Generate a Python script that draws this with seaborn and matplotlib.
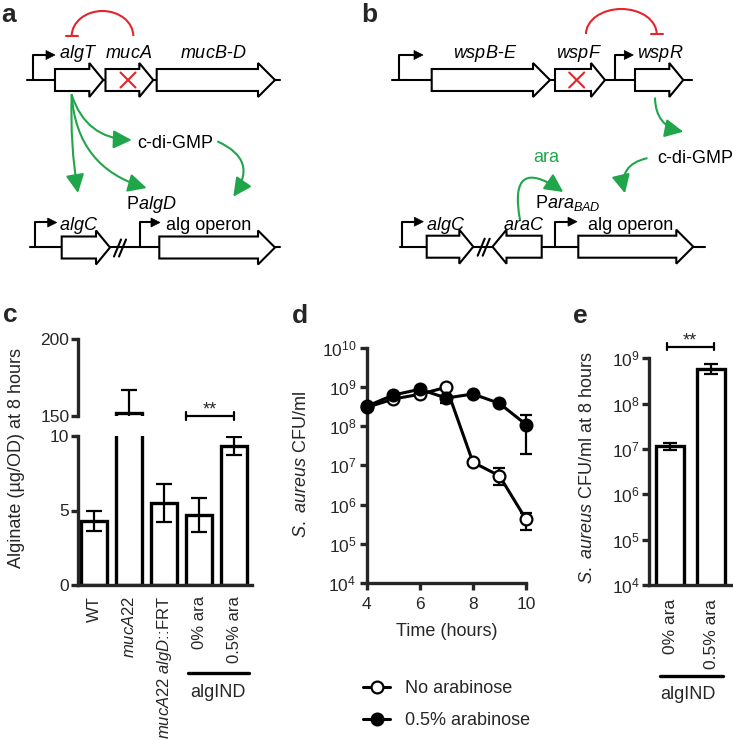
import matplotlib
matplotlib.use('Agg')
import numpy as np
import pandas as pd
import matplotlib.pyplot as plt
import seaborn as sns
from matplotlib.patches import Polygon, Arc, FancyArrowPatch
from matplotlib.lines import Line2D

# panel c: alginate at 8 hours
strains = ['WT', 'mucA22', 'mucA22 algD::FRT', '0% ara', '0.5% ara']
strain_labels = ['WT', r'$\it{mucA22}$', r'$\it{mucA22\ algD}$::FRT', '0% ara', '0.5% ara']
alginate = [4.3, 152, 5.5, 4.7, 9.35]
alginate_err = [0.65, 15, 1.3, 1.15, 0.6]

# panel d: S. aureus over time
hours = [4, 5, 6, 7, 8, 9, 10]
no_ara = [3.0e8, 4.9e8, 6.5e8, 9.8e8, 1.2e7, 5.4e6, 4.2e5]
no_ara_lo = [2.7e8, 4.5e8, 6.0e8, 9.0e8, 1.1e7, 3.2e6, 2.3e5]
no_ara_hi = [3.3e8, 5.3e8, 7.0e8, 1.05e9, 1.3e7, 8.7e6, 6.2e5]
ara = [3.2e8, 6.2e8, 8.7e8, 5.2e8, 6.6e8, 3.8e8, 1.1e8]
ara_lo = [2.9e8, 5.8e8, 8.0e8, 4.0e8, 6.2e8, 3.5e8, 2.0e7]
ara_hi = [3.5e8, 6.6e8, 9.4e8, 6.0e8, 7.0e8, 4.1e8, 1.9e8]
legend_labels = ['No arabinose', '0.5% arabinose']

# panel e: S. aureus at 8 hours
conditions = ['0% ara', '0.5% ara']
cfu_8h = [1.17e7, 5.8e8]
cfu_lo = [9.5e6, 4.5e8]
cfu_hi = [1.38e7, 7.4e8]

sns.set_style('ticks')
plt.rcParams['font.family'] = ['Liberation Sans', 'DejaVu Sans']
plt.rcParams['mathtext.fontset'] = 'custom'
plt.rcParams['mathtext.rm'] = 'Liberation Sans'
plt.rcParams['mathtext.it'] = 'Liberation Sans:italic'
plt.rcParams['mathtext.bf'] = 'Liberation Sans:bold'

W, H = 733, 741
fig = plt.figure(figsize=(W / 100, H / 100), dpi=100)


def fx(px):
    return px / W


def fy(py):
    return 1 - py / H


RED = '#e4252b'
GREEN = '#1fa64a'
LW = 1.5
FS = 13

# ---------- diagrams a and b ----------
ax = fig.add_axes([0, fy(290), 1, 290 / H])
ax.set_xlim(0, W)
ax.set_ylim(290, 0)
ax.axis('off')


def gene(x0, x1, yc, reverse=False, body=22, head=34, hl=14):
    b, h = body / 2, head / 2
    if not reverse:
        pts = [(x0, yc - b), (x1 - hl, yc - b), (x1 - hl, yc - h), (x1, yc),
               (x1 - hl, yc + h), (x1 - hl, yc + b), (x0, yc + b)]
    else:
        pts = [(x1, yc - b), (x0 + hl, yc - b), (x0 + hl, yc - h), (x0, yc),
               (x0 + hl, yc + h), (x0 + hl, yc + b), (x1, yc + b)]
    ax.add_patch(Polygon(pts, closed=True, fc='white', ec='black', lw=LW,
                         joinstyle='miter', zorder=3))


def promoter(x, yline, xtip, rise=25):
    ytop = yline - rise
    ax.plot([x, x, xtip - 7], [yline, ytop, ytop], color='black', lw=LW, zorder=2)
    ax.add_patch(Polygon([(xtip - 9, ytop - 4.5), (xtip, ytop), (xtip - 9, ytop + 4.5)],
                         closed=True, fc='black', ec='black', lw=0.5, zorder=4))


def cross(x, y, s=7.5):
    ax.plot([x - s, x + s], [y - s, y + s], color=RED, lw=LW, zorder=5)
    ax.plot([x - s, x + s], [y + s, y - s], color=RED, lw=LW, zorder=5)


def brk(x, y):
    for dx in (0, 5):
        ax.plot([x - 4 + dx, x + 3 + dx], [y + 9, y - 8], color='black', lw=LW, zorder=4)


def inhibit(xa, xb, y, height, bar_at):
    ax.add_patch(Arc(((xa + xb) / 2, y), xb - xa, height, theta1=180, theta2=360,
                     color=RED, lw=LW))
    ax.plot([bar_at - 6, bar_at + 6], [y, y], color=RED, lw=LW)


def green(p0, p1, rad):
    ax.add_patch(FancyArrowPatch(p0, p1, connectionstyle=f'arc3,rad={rad}',
                                 arrowstyle='-|>,head_length=0.7,head_width=0.35',
                                 mutation_scale=16, color=GREEN, lw=LW,
                                 shrinkA=0, shrinkB=0, zorder=2))


def label(x, y, s, color='black'):
    ax.text(x, y, s, ha='center', va='baseline', fontsize=FS, color=color)


# a - top row
ax.plot([27, 280], [80, 80], color='black', lw=LW, zorder=1)
promoter(33.3, 80, 55)
gene(55, 103.3, 80)
gene(105.5, 153.3, 80)
gene(156.7, 275, 80, hl=17)
cross(128, 80)
label(78, 57.5, r'$\it{algT}$')
label(128.3, 57.5, r'$\it{mucA}$')
label(213.3, 57.5, r'$\it{mucB}$-$\it{D}$')
inhibit(71.7, 133.3, 36, 50, 71.7)
green((71.7, 95), (78, 193), 0.05)
green((71.7, 95), (146.7, 188), 0.35)
green((71.7, 95), (131.7, 140), 0.35)
green((218, 141.7), (233.3, 196.7), -0.6)
label(175, 148, 'c-di-GMP')
label(151.7, 209, r'P$\it{algD}$')

# a - bottom row
ax.plot([30, 280], [247.5, 247.5], color='black', lw=LW, zorder=1)
promoter(35, 247.5, 56.7)
gene(61.7, 110, 247.5)
brk(118, 247.5)
promoter(140, 247.5, 160)
gene(159.3, 275, 247.5, hl=17)
label(78.7, 230, r'$\it{algC}$')
label(209, 230, 'alg operon')

# b - top row
ax.plot([391.7, 691.7], [80, 80], color='black', lw=LW, zorder=1)
promoter(399.3, 80, 423)
gene(431.7, 550, 80, hl=17)
gene(555, 605, 80)
cross(576.7, 80)
promoter(615, 80, 633.3)
gene(635, 683.3, 80)
label(485, 57.5, r'$\it{wspB}$-$\it{E}$')
label(579, 57.5, r'$\it{wspF}$')
label(660, 57.5, r'$\it{wspR}$')
inhibit(586, 656.7, 34, 50, 656.7)
green((655, 98.3), (683.3, 131.7), 0.4)
label(695, 163, 'c-di-GMP')
green((646.7, 158.3), (625, 193.3), 0.5)
label(546.7, 161.7, 'ara', color=GREEN)
green((520, 220), (563.3, 192), -1.2)
label(568, 208.3, r'P$\it{ara}_{\it{BAD}}$')

# b - bottom row
ax.plot([400, 705], [246.7, 246.7], color='black', lw=LW, zorder=1)
promoter(401.7, 246.7, 423.3)
gene(426.7, 473.3, 246.7)
brk(481.7, 246.7)
gene(492.5, 541.7, 246.7, reverse=True)
promoter(555, 246.7, 577)
gene(578.3, 693.3, 246.7, hl=17)
label(446, 230, r'$\it{algC}$')
label(524, 230, r'$\it{araC}$')
label(631, 230, 'alg operon')

# ---------- panel c ----------
SP = 2.4
ax_c = fig.add_axes([fx(78.3), fy(585), (251.7 - 78.3) / W, (585 - 436) / H])
ax_c2 = fig.add_axes([fx(78.3), fy(416), (251.7 - 78.3) / W, (416 - 339.3) / H])
for a in (ax_c, ax_c2):
    sns.barplot(x=strains, y=alginate, ax=a, color='white', edgecolor='black',
                linewidth=SP, width=0.74, errorbar=None, saturation=1)
    a.errorbar(range(len(strains)), alginate, yerr=alginate_err, fmt='none',
               ecolor='black', elinewidth=1.6, capsize=6, capthick=1.6, zorder=5)
    a.set_xlim(-0.46, 4.5)
    a.set_ylabel('')
    a.set_xlabel('')
    for s in ('top', 'right'):
        a.spines[s].set_visible(False)
    a.spines['left'].set_linewidth(SP)
    a.spines['bottom'].set_linewidth(SP)
    a.tick_params(axis='y', width=SP, length=5, pad=1.5, labelsize=12.5)
ax_c.set_ylim(0, 10)
ax_c.set_yticks([0, 5, 10])
ax_c.set_xticks(range(len(strains)))
ax_c.set_xticklabels(strain_labels, rotation=90)
ax_c.tick_params(axis='x', length=0, pad=8, labelsize=12)
ax_c2.set_ylim(150, 200)
ax_c2.set_yticks([150, 200])
ax_c2.spines['bottom'].set_visible(False)
ax_c2.tick_params(axis='x', bottom=False, labelbottom=False)
ax_c2.plot([2.62, 4.0], [150, 150], color='black', lw=1.6, clip_on=False)
for xb in (2.62, 4.0):
    ax_c2.plot([xb, xb], [147.6, 152.4], color='black', lw=1.6, clip_on=False)
fig.text(fx(210), fy(414), '**', ha='center', va='baseline', fontsize=FS)
fig.lines.append(Line2D([fx(188.3), fx(249.3)], [fy(673.3), fy(673.3)],
                        color='black', lw=2.4, transform=fig.transFigure))
fig.text(fx(218), fy(697.3), 'algIND', ha='center', va='baseline', fontsize=FS)
fig.text(fx(16.7), fy(458), 'Alginate (µg/OD) at 8 hours', rotation=90,
         ha='center', va='center', fontsize=FS)

# ---------- panel d ----------
ax_d = fig.add_axes([fx(366.7), fy(583), (526 - 366.7) / W, (583 - 347.7) / H])
ax_d.errorbar(hours, no_ara,
              yerr=[np.subtract(no_ara, no_ara_lo), np.subtract(no_ara_hi, no_ara)],
              fmt='none', ecolor='black', elinewidth=1.6, capsize=4, capthick=1.6, zorder=2)
ax_d.errorbar(hours, ara,
              yerr=[np.subtract(ara, ara_lo), np.subtract(ara_hi, ara)],
              fmt='none', ecolor='black', elinewidth=1.6, capsize=4, capthick=1.6, zorder=2)
sns.lineplot(x=hours, y=no_ara, ax=ax_d, color='black', lw=2.2, marker='o',
             markersize=8.5, markerfacecolor='white', markeredgecolor='black',
             markeredgewidth=1.6, zorder=3)
sns.lineplot(x=hours, y=ara, ax=ax_d, color='black', lw=2.2, marker='o',
             markersize=8.5, markerfacecolor='black', markeredgecolor='black',
             markeredgewidth=1.6, zorder=4)
ax_d.set_yscale('log')
ax_d.set_ylim(1e4, 1e10)
ax_d.set_xlim(4, 10)
ax_d.set_xticks([4, 6, 8, 10])
ax_d.set_yticks([10.0 ** k for k in range(4, 11)])
ax_d.set_yticklabels([r'$\mathregular{10^{%d}}$' % k for k in range(4, 11)])
ax_d.yaxis.set_minor_locator(matplotlib.ticker.NullLocator())
for s in ('top', 'right'):
    ax_d.spines[s].set_visible(False)
for s in ('left', 'bottom'):
    ax_d.spines[s].set_linewidth(SP)
ax_d.tick_params(width=SP, length=5, labelsize=12.5)
ax_d.tick_params(axis='y', pad=2.5)
ax_d.tick_params(axis='x', pad=5)
for art in ax_d.lines + ax_d.collections:
    art.set_clip_on(False)
fig.text(fx(446.7), fy(636), 'Time (hours)', ha='center', va='baseline', fontsize=FS)
fig.text(fx(301.7), fy(465), r'$\it{S.\ aureus}$ CFU/ml', rotation=90,
         ha='center', va='center', fontsize=FS)
handles = [Line2D([], [], color='black', lw=2.2, marker='o', markersize=8.5,
                  markerfacecolor=fc, markeredgecolor='black', markeredgewidth=1.6)
           for fc in ('white', 'black')]
fig.legend(handles, legend_labels, loc='upper left', bbox_to_anchor=(fx(363), fy(680)),
           frameon=False, fontsize=FS, borderpad=0, borderaxespad=0,
           handlelength=1.5, handletextpad=0.8, labelspacing=0.85)

# ---------- panel e ----------
ax_e = fig.add_axes([fx(649.3), fy(585), (730.7 - 649.3) / W, (585 - 358.3) / H])
sns.barplot(x=conditions, y=cfu_8h, ax=ax_e, color='white', edgecolor='black',
            linewidth=SP, width=0.7, errorbar=None, saturation=1)
ax_e.set_yscale('log')
ax_e.errorbar(range(len(conditions)), cfu_8h,
              yerr=[np.subtract(cfu_8h, cfu_lo), np.subtract(cfu_hi, cfu_8h)],
              fmt='none', ecolor='black', elinewidth=1.6, capsize=5, capthick=1.6, zorder=5)
ax_e.set_ylim(1e4, 1e9)
ax_e.set_xlim(-0.505, 1.48)
ax_e.set_yticks([10.0 ** k for k in range(4, 10)])
ax_e.set_yticklabels([r'$\mathregular{10^{%d}}$' % k for k in range(4, 10)])
ax_e.yaxis.set_minor_locator(matplotlib.ticker.NullLocator())
ax_e.set_xticks(range(len(conditions)))
ax_e.set_xticklabels(conditions, rotation=90)
for s in ('top', 'right'):
    ax_e.spines[s].set_visible(False)
for s in ('left', 'bottom'):
    ax_e.spines[s].set_linewidth(SP)
ax_e.tick_params(axis='y', width=SP, length=5, pad=2, labelsize=12.5)
ax_e.tick_params(axis='x', length=0, pad=10, labelsize=12.5)
ybr = 10 ** 9.256
ax_e.plot([-0.08, 1.07], [ybr, ybr], color='black', lw=1.6, clip_on=False)
for xb in (-0.08, 1.07):
    ax_e.plot([xb, xb], [ybr / 1.2, ybr * 1.2], color='black', lw=1.6, clip_on=False)
fig.text(fx(690), fy(345), '**', ha='center', va='baseline', fontsize=FS)
fig.lines.append(Line2D([fx(660), fx(723.3)], [fy(676), fy(676)],
                        color='black', lw=2.4, transform=fig.transFigure))
fig.text(fx(688.3), fy(699), 'algIND', ha='center', va='baseline', fontsize=FS)
fig.text(fx(587.5), fy(468), r'$\it{S.\ aureus}$ CFU/ml at 8 hours', rotation=90,
         ha='center', va='center', fontsize=FS)

# panel letters
for letter, px, py in [('a', 1, 22), ('b', 361.7, 22), ('c', 3, 321.7),
                       ('d', 291.7, 323), ('e', 573.3, 323)]:
    fig.text(fx(px), fy(py), letter, ha='left', va='baseline', fontsize=19, fontweight='bold')

fig.savefig('out.png', dpi=100)
